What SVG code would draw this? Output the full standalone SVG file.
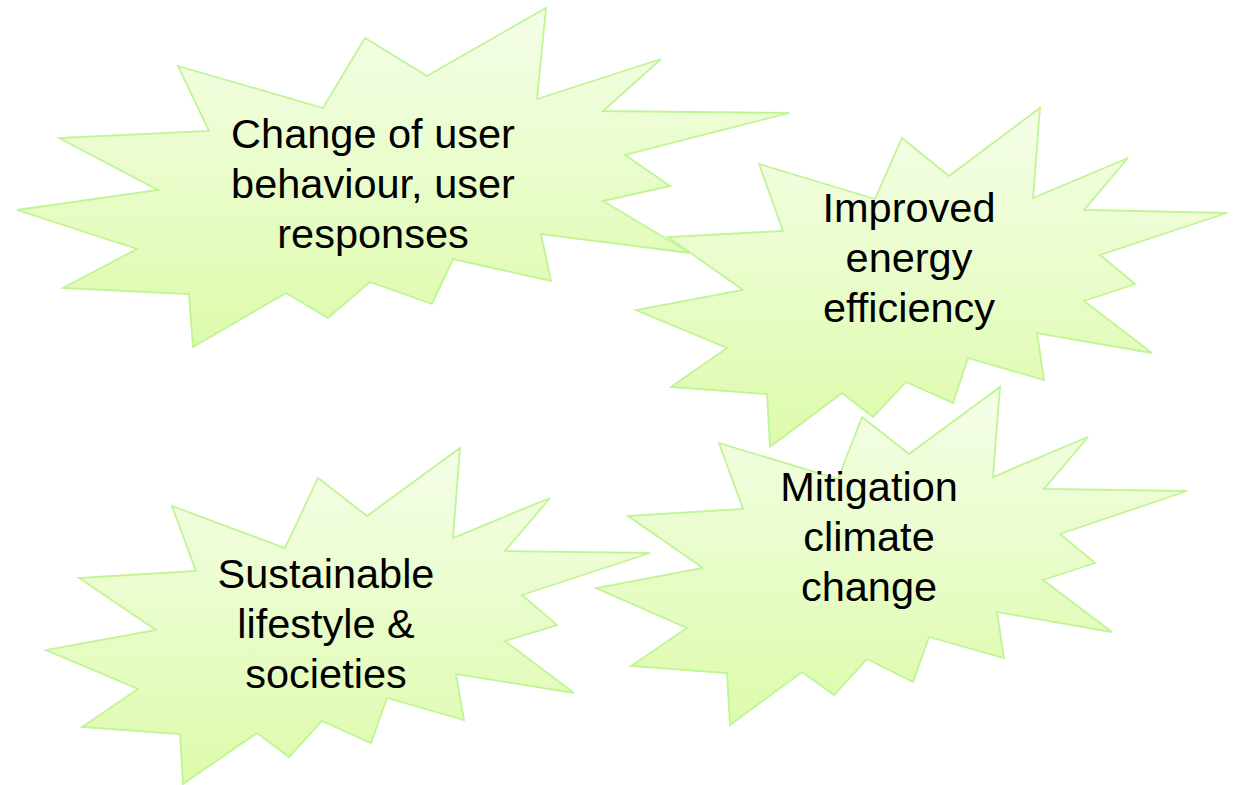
<svg xmlns="http://www.w3.org/2000/svg" width="1236" height="785" viewBox="0 0 1236 785">
  <defs>
    <linearGradient id="burstFill" x1="0" y1="0" x2="0" y2="1">
      <stop offset="0" stop-color="#f5fee9"/>
      <stop offset="1" stop-color="#ddfbab"/>
    </linearGradient>
  </defs>
  <style>
    .burst { fill: url(#burstFill); stroke: #bff593; stroke-width: 1.8; stroke-linejoin: miter; }
    .label { font-family: "Liberation Sans", Arial, sans-serif; font-size: 41.5px; fill: #000; text-anchor: middle; }
  </style>
  <rect width="1236" height="785" fill="#ffffff"/>

  <g id="connectors"></g>

  <!-- Explosion: behaviour change -->
  <g id="node-behaviour">
    <polygon class="burst" points="178,66 323,108 365,38 427,76 546,8 537,99 661,59 603,111 789,113 625,155 670,186 603,201 690,253 541,234 551,281 453,259 432,304 370,282 328,318 286,293 193,347 189,294 63,288 137,249 17,210 158,190 59,138 209,131"/>
    <text class="label" x="373" y="148">Change of user</text>
    <text class="label" x="373" y="198">behaviour, user</text>
    <text class="label" x="373" y="248">responses</text>
  </g>

  <!-- Explosion: energy efficiency -->
  <g id="node-efficiency">
    <polygon class="burst" points="759,164 875,199 902,138 949,176 1040,108 1033,198 1128,158 1084,210 1227,213 1100,255 1135,284 1084,301 1152,353 1037,333 1044,380 968,358 953,403 906,382 873,417 842,393 770,447 767,394 671,387 727,348 636,310 743,290 668,237 783,231"/>
    <text class="label" x="909" y="222">Improved</text>
    <text class="label" x="909" y="272">energy</text>
    <text class="label" x="909" y="322">efficiency</text>
  </g>

  <!-- Explosion: sustainable lifestyle -->
  <g id="node-lifestyle">
    <polygon class="burst" points="172,506 285,548 318,478 367,516 460,448 453,538 550,498 505,551 650,553 522,595 557,625 505,641 574,693 456,674 464,720 387,698 371,743 322,721 289,757 257,733 183,784 180,734 82,727 138,689 46,650 156,630 79,578 196,571"/>
    <text class="label" x="326" y="588">Sustainable</text>
    <text class="label" x="326" y="638">lifestyle &amp;</text>
    <text class="label" x="326" y="688">societies</text>
  </g>

  <!-- Explosion: climate mitigation -->
  <g id="node-mitigation">
    <polygon class="burst" points="719,443 838,479 862,417 909,454 1000,387 993,477 1088,437 1044,489 1187,491 1060,534 1095,563 1043,580 1112,632 997,612 1004,658 929,637 913,682 867,659 834,695 802,672 730,725 727,673 631,666 687,628 596,588 703,568 628,516 743,509"/>
    <text class="label" x="869" y="501">Mitigation</text>
    <text class="label" x="869" y="551">climate</text>
    <text class="label" x="869" y="601">change</text>
  </g>
</svg>
